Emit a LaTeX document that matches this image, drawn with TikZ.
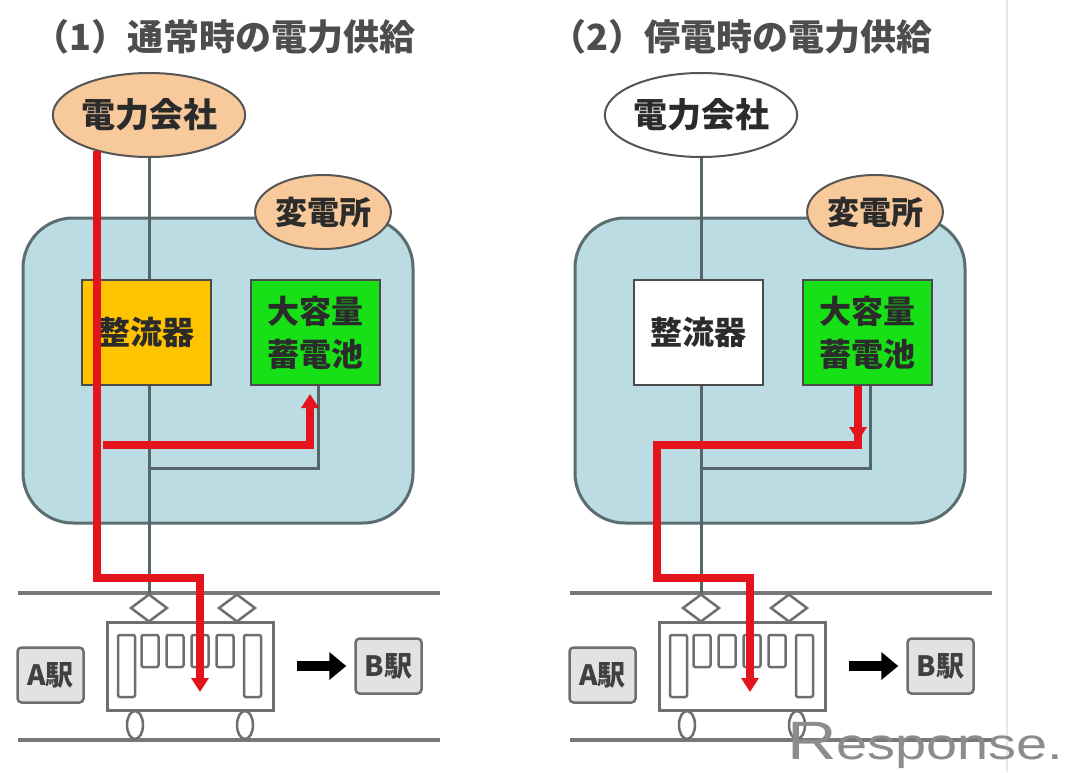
\documentclass[tikz,border=0pt]{standalone}
\usepackage{fontspec}
\newfontfamily\jpfont{Noto Sans CJK JP}
\newfontfamily\logofont{Liberation Sans}
\usetikzlibrary{shapes.geometric,arrows.meta}

\definecolor{peach}{HTML}{F8C99B}
\definecolor{roomfill}{HTML}{BADCE2}
\definecolor{roomedge}{HTML}{5C6D72}
\definecolor{gold}{HTML}{FFC400}
\definecolor{batgreen}{HTML}{17E017}
\definecolor{powerred}{HTML}{E3141B}
\definecolor{wiregray}{HTML}{56666B}
\definecolor{railgray}{HTML}{787878}
\definecolor{inkdark}{HTML}{2B2B2B}
\definecolor{titlegray}{HTML}{4D4D4D}
\definecolor{cargray}{HTML}{6E6E6E}
\definecolor{stnfill}{HTML}{E2E2E2}

\tikzset{
  redtip/.tip={Triangle[length=14pt,width=17pt]},
  blacktip/.tip={Triangle[length=17pt,width=27pt]},
  title/.style={anchor=west,inner sep=0pt,text=titlegray,
    font=\jpfont\bfseries\fontsize{36}{40}\selectfont},
  room/.style={draw=roomedge,line width=3pt,fill=roomfill,rounded corners=50pt,
    minimum width=390pt,minimum height=305pt},
  company/.style={ellipse,draw=inkdark!80,line width=2pt,inner sep=0pt,
    minimum width=154pt,minimum height=84pt,text=inkdark,
    font=\jpfont\bfseries\fontsize{34}{40}\selectfont},
  tag/.style={ellipse,draw=inkdark!80,line width=2pt,fill=peach,inner sep=0pt,
    minimum width=128pt,minimum height=74pt,text=inkdark,
    font=\jpfont\bfseries\fontsize{32}{40}\selectfont},
  unit/.style={draw=inkdark!85,line width=2pt,inner sep=0pt,align=center,
    minimum width=129pt,minimum height=105pt,text=inkdark,
    font=\jpfont\bfseries\fontsize{32}{43}\selectfont},
  rail/.style={draw=railgray,line width=4pt},
  car/.style={draw=cargray,line width=3pt,fill=white,
    minimum width=166pt,minimum height=88pt,inner sep=0pt},
  win/.style={draw=cargray,line width=2.5pt,minimum width=17pt,inner sep=0pt,
    rounded corners=2pt},
  pantograph/.style={diamond,aspect=1.32,draw=cargray,line width=2.5pt,fill=white,
    minimum width=37pt,minimum height=28pt,inner sep=0pt},
  wheel/.style={ellipse,draw=cargray,line width=2.5pt,fill=white,
    minimum width=16pt,minimum height=28pt,inner sep=0pt},
  stn/.style={draw=cargray,line width=2.5pt,fill=stnfill,rounded corners=4pt,
    minimum width=66pt,minimum height=55pt,inner sep=0pt,text=inkdark!90,
    font=\jpfont\bfseries\fontsize{28}{32}\selectfont},
  bigarrow/.style={draw=black,line width=10pt,-blacktip},
  wire/.style={draw=wiregray,line width=3pt},
  feed/.style={draw=powerred,line width=7.5pt},
  sepline/.style={draw=black!9,line width=2pt},
}

\begin{document}
\begin{tikzpicture}[x=1pt,y=-1pt]
\useasboundingbox[fill=white] (0,0) rectangle (1074,772);

% divider between the two cases
\draw[sepline] (1007,0) -- (1007,772);

% headings
\node[title] (head1) at (33,37) {（1）通常時の電力供給};
\node[title] (head2) at (550,37) {（2）停電時の電力供給};

% ---------------- case 1: normal supply ----------------
\node[room] (sub1) at (218,370.5) {};
\node[company,fill=peach] (pc1) at (149,115) {電力会社};
\node[tag] (ss1) at (323,212) {変電所};
\node[unit,fill=gold] (rc1) at (146,332.5) {整流器};
\node[unit,fill=batgreen] (bt1) at (315,332.5) {大容量\\蓄電池};

\draw[rail] (18,593) -- (440,593);
\draw[rail] (18,740) -- (440,740);

\node[wheel] (wa1) at (135,725) {};
\node[wheel] (wb1) at (245,725) {};
\node[car] (tr1) at (190,666) {};
\node[win,minimum height=62pt] (da1) at (126.5,666) {};
\node[win,minimum height=62pt] (db1) at (252.5,666) {};
\node[win,minimum height=32pt] (wn1a) at (150,651) {};
\node[win,minimum height=32pt] (wn1b) at (175,651) {};
\node[win,minimum height=32pt] (wn1c) at (200,651) {};
\node[win,minimum height=32pt] (wn1d) at (225,651) {};
\node[pantograph] (pa1) at (149,608) {};
\node[pantograph] (pb1) at (237,608) {};

\node[stn] (sa1) at (50.5,675) {A駅};
\node[stn] (sb1) at (388.5,666) {B駅};
\draw[bigarrow] ([xshift=22pt]tr1.east) -- ([xshift=-8pt]sb1.west);

\draw[wire] (pc1.south) -- (pc1.south |- rc1.north);
\draw[wire] (pc1.south |- rc1.south) -- (pc1.south |- pa1.north);
\draw[wire] (149,468) -| ([xshift=3pt]bt1.south);

\draw[feed,-redtip] (pc1.215) |- (200,578) -- (200,692);
\draw[feed,-redtip] (103,445) -| (310,394);

% ---------------- case 2: supply during an outage ----------------
\begin{scope}[xshift=552pt]
\node[room] (sub2) at (218,370.5) {};
\node[company,fill=white] (pc2) at (149,115) {電力会社};
\node[tag] (ss2) at (323,212) {変電所};
\node[unit,fill=white] (rc2) at (146,332.5) {整流器};
\node[unit,fill=batgreen] (bt2) at (315,332.5) {大容量\\蓄電池};

\draw[rail] (18,593) -- (440,593);
\draw[rail] (18,740) -- (440,740);

\node[wheel] (wa2) at (135,725) {};
\node[wheel] (wb2) at (245,725) {};
\node[car] (tr2) at (190,666) {};
\node[win,minimum height=62pt] (da2) at (126.5,666) {};
\node[win,minimum height=62pt] (db2) at (252.5,666) {};
\node[win,minimum height=32pt] (wn2a) at (150,651) {};
\node[win,minimum height=32pt] (wn2b) at (175,651) {};
\node[win,minimum height=32pt] (wn2c) at (200,651) {};
\node[win,minimum height=32pt] (wn2d) at (225,651) {};
\node[pantograph] (pa2) at (149,608) {};
\node[pantograph] (pb2) at (237,608) {};

\node[stn] (sa2) at (50.5,675) {A駅};
\node[stn] (sb2) at (388.5,666) {B駅};
\draw[bigarrow] ([xshift=22pt]tr2.east) -- ([xshift=-8pt]sb2.west);

\draw[wire] (pc2.south) -- (pc2.south |- rc2.north);
\draw[wire] (pc2.south |- rc2.south) -- (pc2.south |- pa2.north);
\draw[wire] (149,468) -| ([xshift=3pt]bt2.south);

\draw[feed,-redtip] ([xshift=-9pt]bt2.south) -- (306,445) -- (105,445)
  -- (105,578) -- (198,578) -- (198,692);
\draw[feed,-redtip] (306,400) -- (306,441);
\end{scope}

% publisher mark
\node[anchor=base west,inner sep=0pt,text=black!45,font=\logofont] (logo) at (787,759)
  {\scalebox{1.27}[1]{{\fontsize{54}{54}\selectfont R}\fontsize{44}{44}\selectfont esponse.}};
\end{tikzpicture}
\end{document}
